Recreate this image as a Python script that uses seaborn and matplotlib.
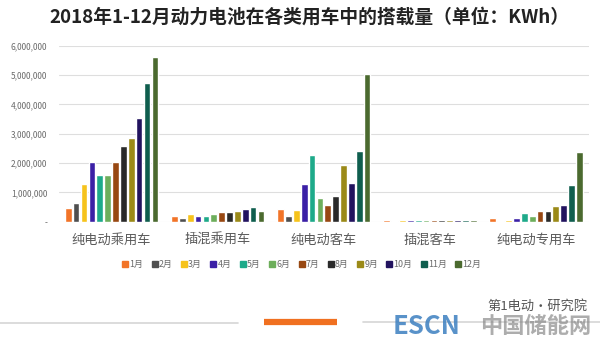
import matplotlib
matplotlib.use("Agg")
import matplotlib.pyplot as plt
import matplotlib.ticker as mticker
from matplotlib.lines import Line2D
import seaborn as sns
import pandas as pd

sns.set_theme(style="white")
plt.rcParams['font.family'] = ['Noto Sans CJK SC', 'DejaVu Sans']

categories = ["纯电动乘用车", "插混乘用车", "纯电动客车", "插混客车", "纯电动专用车"]
months = ["1月", "2月", "3月", "4月", "5月", "6月", "7月", "8月", "9月", "10月", "11月", "12月"]

# installed battery capacity (kWh), one list per vehicle category, Jan..Dec
bev_passenger = [480000, 630000, 1300000, 2030000, 1590000, 1590000, 2030000, 2570000, 2850000, 3550000, 4730000, 5630000]
phev_passenger = [180000, 125000, 270000, 200000, 180000, 260000, 320000, 320000, 380000, 430000, 490000, 350000]
bev_bus = [430000, 180000, 400000, 1290000, 2260000, 810000, 570000, 870000, 1940000, 1310000, 2410000, 5050000]
phev_bus = [45000, 40000, 42000, 48000, 42000, 45000, 50000, 48000, 45000, 50000, 48000, 42000]
bev_special = [140000, 20000, 70000, 140000, 300000, 190000, 380000, 350000, 550000, 570000, 1240000, 2380000]

colors = ["#F27428", "#4F4F4F", "#F6C31C", "#3B20A6", "#1EAA8A", "#6DAE5B",
          "#984812", "#2A2A2A", "#9B8A18", "#22135F", "#0F5E4E", "#4B6A2F"]

series = [bev_passenger, phev_passenger, bev_bus, phev_bus, bev_special]
rows = []
for cat, vals in zip(categories, series):
    for m, v in zip(months, vals):
        rows.append({"类别": cat, "月份": m, "搭载量": v})
df = pd.DataFrame(rows)

fig = plt.figure(figsize=(6.0, 3.46), dpi=100)
ax = fig.add_axes([0.0975, 0.3592, 0.8845, 0.5088])

sns.barplot(data=df, x="类别", y="搭载量", hue="月份", hue_order=months,
            order=categories, palette=colors, width=0.89, gap=0.15,
            saturation=1, ax=ax, legend=False)

ax.set_ylim(0, 6000000)
ax.set_xlim(-0.5, 4.5)
ax.yaxis.set_major_locator(mticker.MultipleLocator(1000000))
ax.yaxis.set_major_formatter(mticker.FuncFormatter(
    lambda v, p: "-" if v == 0 else f"{v:,.0f}"))
ax.grid(axis="y", color="#dedede", linewidth=0.8)
ax.set_axisbelow(True)
for s in ax.spines.values():
    s.set_visible(False)
ax.set_xlabel("")
ax.set_ylabel("")
ax.tick_params(axis="y", labelsize=6, colors="#6a6a6a", length=0, pad=8)
ax.tick_params(axis="x", labelsize=9.5, colors="#5a5a5a", length=0, pad=9)

handles = [Line2D([0], [0], marker="s", linestyle="none", markersize=4,
                  markerfacecolor=c, markeredgecolor=c) for c in colors]
fig.legend(handles, months, loc="center", bbox_to_anchor=(0.503, 0.235),
           ncol=12, frameon=False, fontsize=6.4, handlelength=0.6,
           handletextpad=0.15, columnspacing=1.0, labelcolor="#6a6a6a")

fig.text(0.516, 0.95, "2018年1-12月动力电池在各类用车中的搭载量（单位：KWh）",
         ha="center", va="center", fontsize=13.5, fontweight="bold", color="#222222")

# footer decoration
fig.add_artist(Line2D([0.0, 0.397], [0.067, 0.067], color="#d5d5d5", linewidth=1.2))
fig.add_artist(Line2D([0.605, 1.0], [0.069, 0.069], color="#d5d5d5", linewidth=1.2))
fig.add_artist(Line2D([0.44, 0.562], [0.069, 0.069], color="#F07020", linewidth=4.5,
                      solid_capstyle="butt"))
fig.text(0.98, 0.116, "第1电动·研究院", ha="right", va="center",
         fontsize=9.5, color="#555555")
fig.text(0.655, 0.056, "ESCN", ha="left", va="center", fontsize=18.5,
         fontweight="bold", color="#3C7FC0", alpha=0.85)
fig.text(0.985, 0.056, "中国储能网", ha="right", va="center", fontsize=16,
         fontweight="bold", color="#8a8a8a", alpha=0.7)

fig.savefig("out.png", dpi=100, facecolor="white")
